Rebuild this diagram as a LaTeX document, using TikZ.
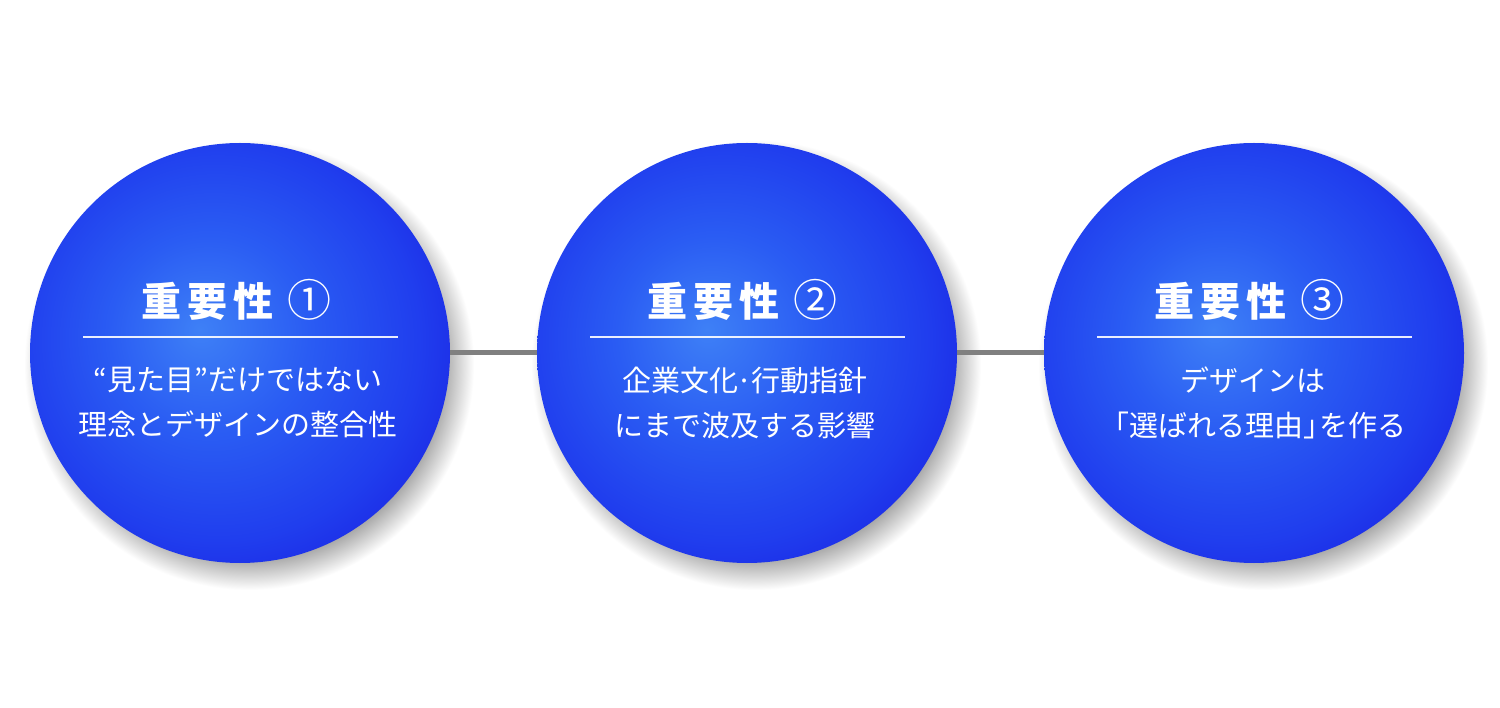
\documentclass[tikz,border=0pt]{standalone}
\usepackage{fontspec}
\newfontfamily\jp{Noto Sans CJK JP}
\definecolor{ballin}{RGB}{62,128,246}
\definecolor{ballmid}{RGB}{42,92,243}
\definecolor{ballout}{RGB}{32,62,238}
\definecolor{balledge}{RGB}{27,38,228}
\definecolor{shadowgray}{RGB}{140,140,140}
\definecolor{linkgray}{RGB}{128,128,128}
\pgfdeclareradialshading{ballshade}{\pgfpoint{-4.8bp}{2.8bp}}{color(0bp)=(ballin); color(11.9bp)=(ballmid); color(23.8bp)=(ballout); color(31bp)=(balledge); color(50bp)=(balledge)}
\pgfdeclareradialshading{shadeshadow}{\pgfpoint{0bp}{0bp}}{color(0bp)=(shadowgray); color(20.5bp)=(shadowgray); color(25bp)=(white); color(50bp)=(white)}
\tikzset{
  ball/.style={circle, minimum size=420pt, inner sep=0pt, shading=ballshade},
  ballshadow/.style={circle, minimum size=450pt, inner sep=0pt, shading=shadeshadow},
  linkline/.style={draw=linkgray, line width=5pt},
  sepline/.style={draw=white, line width=1.6pt, opacity=0.9},
  titletext/.style={text=white, font=\jp\fontsize{40}{48}\selectfont\bfseries, inner sep=0pt},
  bodytext/.style={text=white, font=\jp\fontsize{29}{45}\selectfont, align=center, inner sep=0pt}
}
\newcommand{\ttl}[1]{重\hspace{6pt}要\hspace{6pt}性\hspace{14pt}{\mdseries\fontsize{44}{48}\selectfont #1}}
\begin{document}
\begin{tikzpicture}[x=1pt,y=-1pt]
\useasboundingbox (0,0) rectangle (1500,708);
\fill[white] (0,0) rectangle (1500,708);
% shadows
\node[ballshadow] (s1) at (249,365) {};
\node[ballshadow] (s2) at (756,365) {};
\node[ballshadow] (s3) at (1263,365) {};
% circles
\node[ball] (c1) at (240,353) {};
\node[ball] (c2) at (747,353) {};
\node[ball] (c3) at (1254,353) {};
% connectors
\draw[linkline] (c1) -- (c2);
\draw[linkline] (c2) -- (c3);
% titles
\node[titletext] (t1) at (236,300) {\ttl{①}};
\node[titletext] (t2) at (742,300) {\ttl{②}};
\node[titletext] (t3) at (1249,300) {\ttl{③}};
% separators
\foreach \c in {c1,c2,c3}{
  \draw[sepline] ([shift={(-157,-16)}]\c.center) -- ([shift={(158,-16)}]\c.center);
}
% bodies
\node[bodytext] (b1) at (238,403) {“見た目”だけではない\\理念とデザインの整合性};
\node[bodytext] (b2) at (745,403) {企業文化\hspace{-2pt}·\hspace{-2pt}行動指針\\にまで波及する影響};
\node[bodytext] (b3) at (1253,403) {デザインは\\「選ばれる理由」\hspace{-13pt}を作る};
\end{tikzpicture}
\end{document}
